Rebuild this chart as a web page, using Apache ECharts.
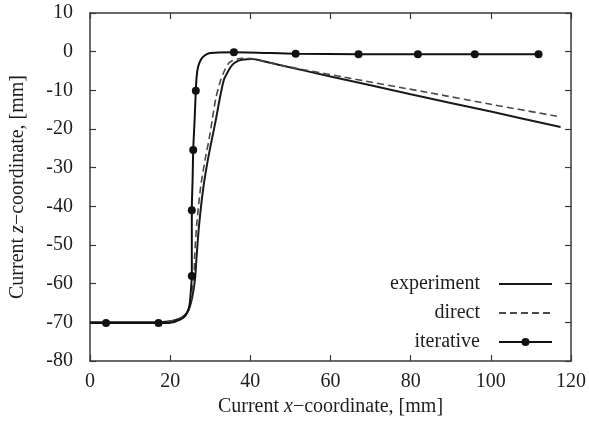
<!DOCTYPE html>
<html>
<head>
<meta charset="utf-8">
<script src="https://cdn.jsdelivr.net/npm/echarts@6/dist/echarts.min.js"></script>
<style>
  html, body { margin: 0; padding: 0; background: #fff; }
  #chart { width: 589px; height: 422px; }
</style>
</head>
<body>
<div id="chart"></div>
<script>
// Axis ticks
const xTicks = [0, 20, 40, 60, 80, 100, 120];
const zTicks = [-80, -70, -60, -50, -40, -30, -20, -10, 0, 10];

// Measured trajectory (experiment)
const expX = [0, 10, 18, 21, 23, 24.5, 25.5, 26.2, 26.6, 27.2, 28.3, 29.4, 30.4, 31.4, 32.4, 33.4, 34.5, 35.5, 36.7, 37.9, 40.4, 43, 47, 60, 80, 100, 117.4];
const expZ = [-70, -70, -69.9, -69.5, -68.7, -67, -63.5, -58.8, -53, -45, -35, -28, -22.7, -17.6, -12, -7.3, -5, -3.4, -2.5, -2.1, -1.9, -2.4, -3.4, -6.4, -11, -15.5, -19.5];

// Direct simulation
const dirX = [0, 10, 18, 21, 23, 24.5, 25.3, 25.9, 26.1, 26.6, 27.6, 28.7, 29.7, 30.5, 31.4, 32.6, 33.6, 34.6, 35.6, 36.7, 38, 40.4, 43, 47, 63.4, 84, 100, 116.5];
const dirZ = [-70, -70, -69.9, -69.5, -68.7, -67, -63.5, -58.8, -53, -45, -35, -28, -22.7, -17.6, -12, -7.3, -4.8, -3.0, -2.3, -1.9, -1.7, -1.8, -2.4, -3.4, -6.6, -10.5, -13.6, -16.7];

// Iterative simulation (curve)
const itX = [0, 4, 17.1, 20, 22.5, 24, 24.8, 25.2, 25.4, 25.4, 25.6, 25.75, 26.1, 26.4, 26.6, 27, 27.7, 28.6, 29.7, 32, 35.9, 51.3, 67, 81.8, 96, 111.9];
const itZ = [-70.2, -70.2, -70.2, -70.1, -69.3, -68, -65.7, -61.4, -58, -41, -33, -25.4, -17.6, -10.1, -6.5, -3.8, -2, -1, -0.4, -0.2, -0.15, -0.55, -0.65, -0.65, -0.65, -0.65];

// Iterative simulation (solution points)
const markX = [4, 17.1, 25.4, 25.4, 25.75, 26.4, 35.9, 51.3, 67, 81.8, 96, 111.9];
const markZ = [-70.2, -70.2, -58, -41, -25.4, -10.1, -0.15, -0.55, -0.65, -0.65, -0.65, -0.65];

const seriesNames = ['experiment', 'direct', 'iterative'];

const pairs = (xs, ys) => xs.map((x, i) => [x, ys[i]]);

const FONT = 'Liberation Serif';
const INK = '#1e1e1e';
const AXIS = '#3a3a3a';

const baseAxis = {
  axisLine: { show: true, onZero: false, lineStyle: { color: AXIS, width: 1.5 } },
  axisTick: { show: true, inside: true, length: 6, lineStyle: { color: AXIS, width: 1.2 } },
  splitLine: { show: false }
};

const titleRich = {
  a: { fontFamily: FONT, fontSize: 20, color: INK },
  i: { fontFamily: FONT, fontSize: 20, fontStyle: 'italic', color: INK }
};

const chart = echarts.init(document.getElementById('chart'), null, { renderer: 'canvas' });

chart.setOption({
  backgroundColor: '#fff',
  animation: false,
  grid: { left: 90, right: 13, top: 13, bottom: 60, containLabel: false },
  xAxis: [
    Object.assign({}, baseAxis, {
      type: 'value', position: 'bottom',
      min: xTicks[0], max: xTicks[xTicks.length - 1], interval: xTicks[1] - xTicks[0],
      axisLabel: { margin: 11, color: INK, fontFamily: FONT, fontSize: 20 },
      name: '{a|Current }{i|x}{a|\u2212coordinate, [mm]}',
      nameLocation: 'middle', nameGap: 36,
      nameTextStyle: { rich: titleRich }
    }),
    Object.assign({}, baseAxis, {
      type: 'value', position: 'top',
      min: xTicks[0], max: xTicks[xTicks.length - 1], interval: xTicks[1] - xTicks[0],
      axisLabel: { show: false }
    })
  ],
  yAxis: [
    Object.assign({}, baseAxis, {
      type: 'value', position: 'left',
      min: zTicks[0], max: zTicks[zTicks.length - 1], interval: zTicks[1] - zTicks[0],
      axisLabel: { margin: 17, color: INK, fontFamily: FONT, fontSize: 20 },
      name: '{a|Current }{i|z}{a|\u2212coordinate, [mm]}',
      nameLocation: 'middle', nameGap: 62, nameRotate: 90,
      nameTextStyle: { rich: titleRich }
    }),
    Object.assign({}, baseAxis, {
      type: 'value', position: 'right',
      min: zTicks[0], max: zTicks[zTicks.length - 1], interval: zTicks[1] - zTicks[0],
      axisLabel: { show: false }
    })
  ],
  legend: {
    data: [
      { name: seriesNames[0], itemStyle: { color: 'rgba(0,0,0,0)', borderWidth: 0 } },
      { name: seriesNames[1], itemStyle: { color: 'rgba(0,0,0,0)', borderWidth: 0 } },
      { name: seriesNames[2] }
    ],
    orient: 'vertical',
    right: 31, top: 269,
    align: 'right',
    itemWidth: 53, itemHeight: 10, itemGap: 9,
    textStyle: { fontFamily: FONT, fontSize: 20, color: INK, padding: [0, 14, 0, 0] }
  },
  series: [
    {
      name: seriesNames[0], type: 'line', data: pairs(expX, expZ),
      symbol: 'none', smooth: 0.25,
      lineStyle: { color: '#1a1a1a', width: 2 }, itemStyle: { color: '#1a1a1a' }
    },
    {
      name: seriesNames[1], type: 'line', data: pairs(dirX, dirZ),
      symbol: 'none', smooth: 0.25,
      lineStyle: { color: '#4a4a4a', width: 1.6, type: [7, 4] }, itemStyle: { color: '#4a4a4a' }
    },
    {
      name: seriesNames[2], type: 'line', data: pairs(itX, itZ),
      symbol: 'circle', symbolSize: 8, showSymbol: false, smooth: 0.25,
      lineStyle: { color: '#111', width: 2 }, itemStyle: { color: '#111' }
    },
    {
      name: 'iterative points', type: 'scatter', data: pairs(markX, markZ),
      symbol: 'circle', symbolSize: 8, z: 5,
      itemStyle: { color: '#111', opacity: 1 }
    }
  ]
});
</script>
</body>
</html>
